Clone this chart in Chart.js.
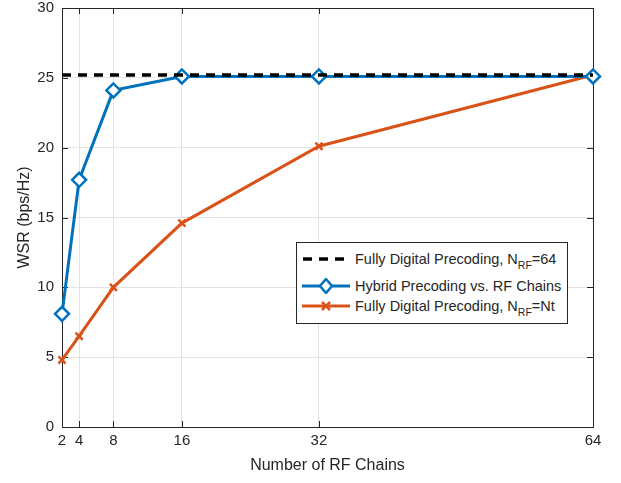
<!DOCTYPE html>
<html lang="en">
  <head>
    <meta charset="UTF-8" />
    <title>WSR vs RF Chains</title>
    <script src="https://cdn.jsdelivr.net/npm/chart.js"></script>
    <style>
      body { margin: 0; background: #fff; font-family: "Liberation Sans", Arial, sans-serif; overflow: hidden; }
      #wrap { position: relative; width: 621px; height: 483px; overflow: hidden; }
      #myChart { position: absolute; left: 0; top: -9px; }
      #legend {
        position: absolute; left: 296px; top: 242px; width: 270px; height: 80px;
        border: 1px solid #262626; background: #fff; font-size: 14.5px; color: #262626;
      }
      .row { position: absolute; left: 0; height: 22px; display: flex; align-items: center; white-space: nowrap; }
      .row svg { margin-left: 3px; margin-right: 3px; }
      sub { font-size: 10.5px; vertical-align: -5px; line-height: 0; }
    </style>
  </head>
  <body>
    <div id="wrap">
      <canvas id="myChart" width="621" height="492"></canvas>
      <div id="legend">
        <div class="row" style="top: 5px">
          <svg width="52" height="10"><line x1="3" y1="5" x2="51" y2="5" stroke="#000" stroke-width="3.5" stroke-dasharray="9,7" /></svg>
          <span>Fully Digital Precoding, N<sub>RF</sub>=64</span>
        </div>
        <div class="row" style="top: 32px">
          <svg width="52" height="16"><line x1="2" y1="8" x2="50" y2="8" stroke="#0072BD" stroke-width="3" /><path d="M26 1 L32 8 L26 15 L20 8 Z" fill="#fff" stroke="#0072BD" stroke-width="2.5" /></svg>
          <span>Hybrid Precoding vs. RF Chains</span>
        </div>
        <div class="row" style="top: 52px">
          <svg width="52" height="16"><line x1="2" y1="8" x2="50" y2="8" stroke="#D95319" stroke-width="3" /><path d="M22 4 L30 12 M30 4 L22 12" stroke="#D95319" stroke-width="2.5" /></svg>
          <span>Fully Digital Precoding, N<sub>RF</sub>=Nt</span>
        </div>
      </div>
    </div>

    <script>
      const rfChains = [2, 4, 8, 16, 32, 64];
      const hybridWsr = [8.1, 17.7, 24.1, 25.1, 25.1, 25.1];
      const digitalNtWsr = [4.8, 6.5, 10.0, 14.6, 20.1, 25.2];
      const digital64Wsr = 25.2;
      const xTicks = [2, 4, 8, 16, 32, 64];
      const yTicks = [0, 5, 10, 15, 20, 25, 30];

      const toPoints = (xs, ys) => xs.map((x, i) => ({ x: x, y: ys[i] }));

      // box around the axes + inward tick marks (MATLAB look)
      const boxPlugin = {
        id: "box",
        beforeDatasetsDraw(chart) {
          const { ctx, chartArea: a, scales } = chart;
          ctx.save();
          ctx.strokeStyle = "#262626";
          ctx.lineWidth = 1;
          ctx.strokeRect(a.left + 0.5, a.top + 0.5, a.right - a.left, a.bottom - a.top);
          ctx.beginPath();
          xTicks.forEach((v) => {
            const px = Math.round(scales.x.getPixelForValue(v)) + 0.5;
            ctx.moveTo(px, a.bottom); ctx.lineTo(px, a.bottom - 6);
            ctx.moveTo(px, a.top); ctx.lineTo(px, a.top + 6);
          });
          yTicks.forEach((v) => {
            const py = Math.round(scales.y.getPixelForValue(v)) + 0.5;
            ctx.moveTo(a.left, py); ctx.lineTo(a.left + 6, py);
            ctx.moveTo(a.right, py); ctx.lineTo(a.right - 6, py);
          });
          ctx.stroke();
          ctx.restore();
        },
      };

      const ctx = document.getElementById("myChart").getContext("2d");
      new Chart(ctx, {
        type: "line",
        data: {
          datasets: [
            {
              label: "Fully Digital Precoding, NRF=64",
              data: toPoints([2, 64], [digital64Wsr, digital64Wsr]),
              borderColor: "#000",
              borderWidth: 3.5,
              borderDash: [9, 7],
              pointRadius: 0,
            },
            {
              label: "Hybrid Precoding vs. RF Chains",
              data: toPoints(rfChains, hybridWsr),
              borderColor: "#0072BD",
              borderWidth: 3,
              pointStyle: "rectRot",
              pointRadius: 7,
              pointBorderWidth: 2.5,
              pointBackgroundColor: "#fff",
              pointBorderColor: "#0072BD",
            },
            {
              label: "Fully Digital Precoding, NRF=Nt",
              data: toPoints(rfChains, digitalNtWsr),
              borderColor: "#D95319",
              borderWidth: 3,
              pointStyle: "crossRot",
              pointRadius: 5,
              pointBorderWidth: 2.5,
              pointBorderColor: "#D95319",
            },
          ],
        },
        options: {
          responsive: false,
          animation: false,
          clip: false,
          layout: { padding: { left: 0, right: 28, top: 0, bottom: 4 } },
          plugins: { legend: { display: false }, tooltip: { enabled: false } },
          scales: {
            x: {
              type: "linear",
              min: 2,
              max: 64,
              afterBuildTicks: (s) => { s.ticks = xTicks.map((v) => ({ value: v })); },
              afterFit: (s) => { s.height = 52; },
              grid: { color: "#e3e3e3", drawTicks: false },
              border: { display: false },
              ticks: { color: "#262626", padding: 5, font: { family: "Liberation Sans", size: 15 }, maxRotation: 0 },
              title: { display: true, text: "Number of RF Chains", color: "#262626", padding: { top: 0 }, font: { family: "Liberation Sans", size: 16 } },
            },
            y: {
              min: 0,
              max: 30,
              afterBuildTicks: (s) => { s.ticks = yTicks.map((v) => ({ value: v })); },
              afterFit: (s) => { s.width = 62; },
              grid: { color: "#e3e3e3", drawTicks: false },
              border: { display: false },
              ticks: { color: "#262626", padding: 8, font: { family: "Liberation Sans", size: 15 } },
              title: { display: true, text: "WSR (bps/Hz)", color: "#262626", padding: { top: 15, bottom: 0 }, font: { family: "Liberation Sans", size: 16 } },
            },
          },
        },
        plugins: [boxPlugin],
      });
    </script>
  </body>
</html>
